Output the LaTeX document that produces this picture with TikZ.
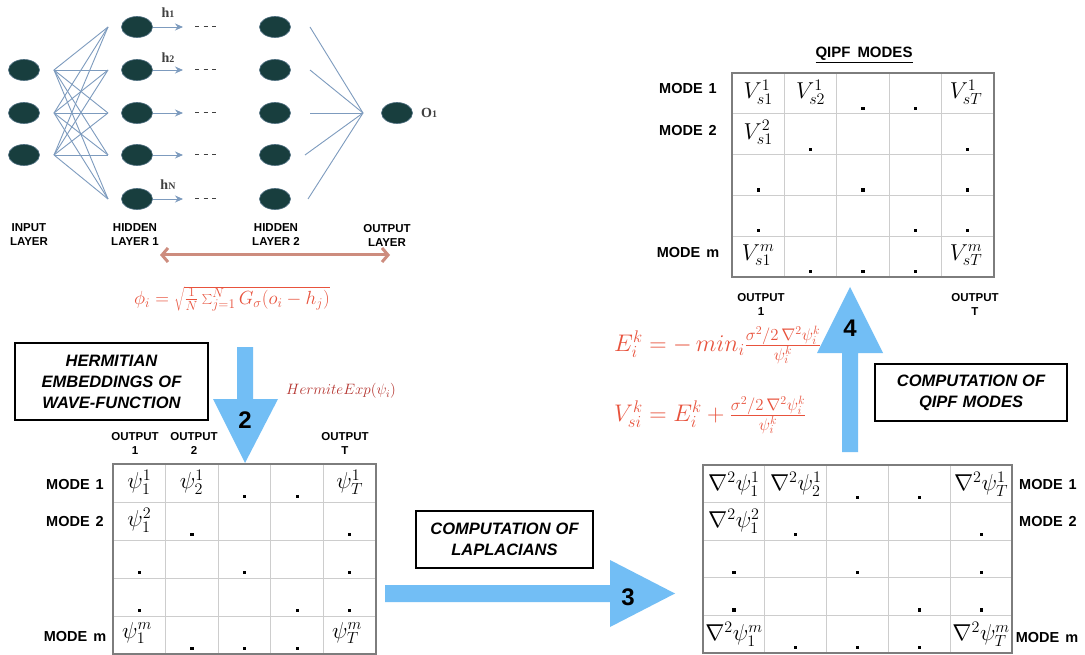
\RequirePackage{fix-cm}
\documentclass[tikz,border=0pt]{standalone}
\usepackage[no-math]{fontspec}
\setmainfont{Liberation Sans}
\setsansfont{Liberation Sans}
\newfontfamily\serifb{Liberation Serif}
\usetikzlibrary{shapes.geometric,arrows.meta}
\definecolor{nnnode}{RGB}{24,62,62}
\definecolor{nnedge}{RGB}{125,155,190}
\definecolor{bigblue}{RGB}{114,190,245}
\definecolor{formred}{RGB}{232,82,60}
\definecolor{hermred}{RGB}{180,50,45}
\definecolor{brownarrow}{RGB}{205,140,126}
\definecolor{gridgray}{RGB}{205,205,205}
\definecolor{bordergray}{RGB}{125,125,125}
\newcommand\mgrid[4]{%
  \foreach \i in {1,...,4} {
    \draw[gridl] ({#1+\i*#3},#2) -- ({#1+\i*#3},{#2+5*#4});
    \draw[gridl] (#1,{#2+\i*#4}) -- ({#1+5*#3},{#2+\i*#4});
  }
  \draw[gridb] (#1,#2) rectangle ({#1+5*#3},{#2+5*#4});
  \foreach \r/\c in {1/3,1/4,2/2,2/5,3/1,3/3,3/5,4/1,4/4,4/5,5/2,5/3,5/4}
    \fill ({#1+(\c-0.5)*#3-1.6},{#2+\r*#4-7}) rectangle ++(3.2,3.2);
}
\begin{document}
\begin{tikzpicture}[x=1pt,y=-1pt,
  nn/.style={ellipse, fill=nnnode, draw=nnedge!50!nnnode, line width=0.6pt, minimum width=31pt, minimum height=21pt, inner sep=0pt},
  nnline/.style={draw=nnedge, line width=0.9pt},
  lbl/.style={font=\fontsize{11.5}{14}\selectfont\bfseries, align=center, inner sep=0pt},
  model/.style={font=\fontsize{14.5}{17}\selectfont\bfseries, inner sep=0pt},
  stagebox/.style={draw=black, line width=2.2pt, font=\fontsize{16.5}{21}\selectfont\bfseries\itshape, align=center, inner sep=0pt},
  bignum/.style={font=\fontsize{24}{24}\selectfont\bfseries, inner sep=0pt},
  cellm/.style={font=\fontsize{23}{23}\selectfont, inner sep=0pt},
  formula/.style={text=formred, font=\fontsize{24}{26}\selectfont, inner sep=0pt},
  hlab/.style={font=\fontsize{14}{14}\selectfont\serifb\bfseries, text=black!75, inner sep=0pt},
  gridl/.style={draw=gridgray, line width=0.9pt},
  gridb/.style={draw=bordergray, line width=1.4pt}
]
\fill[white] (0,0) rectangle (1085,655);
\useasboundingbox (0,0) rectangle (1085,655);

% ---------------- neural network ----------------
\foreach \y [count=\k] in {70,113,155} {
  \coordinate (io\k) at (54,\y);
}
\foreach \y [count=\k] in {27,70,113,155,199} {
  \coordinate (ai\k) at (108,\y);
  \coordinate (ah\k) at (183,\y);
}
\coordinate (bo1) at (310,27);
\coordinate (bo2) at (310,70);
\coordinate (bo3) at (310,113);
\coordinate (bo4) at (305,155);
\coordinate (bo5) at (308,199);
\coordinate (oin) at (363,113);

\foreach \i in {1,2,3} \foreach \j in {1,...,5} \draw[nnline] (io\i) -- (ai\j);
\foreach \j in {1,...,5} \draw[nnline] (bo\j) -- (oin);

\node[nn] (i1) at (24,70) {};
\node[nn] (i2) at (24,113) {};
\node[nn] (i3) at (24,155) {};
\foreach \y [count=\k] in {27,70,113,155,199} {
  \node[nn] (a\k) at (137,\y) {};
  \node[nn] (b\k) at (275,\y) {};
  \draw[nnline,-{Stealth[length=8pt,width=7pt]}] (a\k.east) -- (ah\k);
  \draw[black!75, line width=1pt, dash pattern=on 4pt off 4.5pt] (195,\y) -- (219,\y);
}
\node[nn] (o1) at (397,113) {};
\node[hlab, anchor=west] (o1l) at (421,113) {O{\fontsize{10}{10}\selectfont 1}};
\node[hlab] (h1l) at (168,13) {h{\fontsize{10}{10}\selectfont 1}};
\node[hlab] (h2l) at (168,58) {h{\fontsize{10}{10}\selectfont 2}};
\node[hlab] (hNl) at (168,185) {h{\fontsize{10}{10}\selectfont N}};

\node[lbl] (lin) at (29,235) {INPUT\\LAYER};
\node[lbl] (lh1) at (135,235) {HIDDEN\\LAYER 1};
\node[lbl] (lh2) at (276,235) {HIDDEN\\LAYER 2};
\node[lbl] (lout) at (387,235) {OUTPUT\\LAYER};

\coordinate (dl) at (160,255);
\coordinate (dr) at (390,255);
\draw[brownarrow, line width=3pt, {Straight Barb[length=6pt,width=14pt]}-{Straight Barb[length=6pt,width=14pt]}] (dl) -- (dr);

\node[formula, font=\fontsize{19}{21}\selectfont] (phi) at (232,299) {$\phi_i=\sqrt{\frac{1}{N}\sum_{j=1}^{N} G_\sigma(o_i-h_j)}$};

% ---------------- stage 2 ----------------
\node[stagebox, minimum width=193pt, minimum height=77pt] (hbox) at (111.5,381.5) {HERMITIAN\\EMBEDDINGS\hspace{5pt}OF\\WAVE-FUNCTION};
\fill[bigblue] (237,347) -- (253,347) -- (253,399) -- (278,399) -- (245,463) -- (213,399) -- (237,399) -- cycle;
\node[bignum] (n2) at (245,420) {2};
\node[text=hermred, font=\fontsize{15}{17}\selectfont, anchor=west, inner sep=0pt] (herm) at (286,391) {$HermiteExp(\psi_i)$};

% left matrix
\mgrid{113}{464}{52.6}{38}
\node[lbl] (lo1) at (135,443) {OUTPUT\\1};
\node[lbl] (lo2) at (194,443) {OUTPUT\\2};
\node[lbl] (loT) at (345,443) {OUTPUT\\T};
\node[model] (lm1) at (75,485) {MODE\hspace{6pt}1};
\node[model] (lm2) at (75,522) {MODE\hspace{6pt}2};
\node[model] (lmm) at (75,637) {MODE\hspace{6pt}m};
\node[cellm] (L11) at (139.3,482) {$\psi_1^1$};
\node[cellm] (L12) at (191.9,482) {$\psi_2^1$};
\node[cellm] (L15) at (349.7,482) {$\psi_T^1$};
\node[cellm] (L21) at (139.3,520) {$\psi_1^2$};
\node[cellm] (L51) at (137,633) {$\psi_1^m$};
\node[cellm] (L55) at (347,633) {$\psi_T^m$};

% ---------------- stage 3 ----------------
\node[stagebox, minimum width=177pt, minimum height=57pt] (lbox) at (504.5,539.5) {COMPUTATION\hspace{5pt}OF\\LAPLACIANS};
\fill[bigblue] (385,585) -- (610,585) -- (610,560) -- (675,593.5) -- (610,627) -- (610,602) -- (385,602) -- cycle;
\node[bignum] (n3) at (628,597) {3};

% right bottom matrix
\mgrid{703}{465}{61.8}{37.6}
\node[model] (rm1) at (1048,485) {MODE\hspace{6pt}1};
\node[model] (rm2) at (1048,522) {MODE\hspace{6pt}2};
\node[model] (rmm) at (1047,638) {MODE\hspace{6pt}m};
\node[cellm] (R11) at (733.9,484) {$\nabla^2\psi_1^1$};
\node[cellm] (R12) at (795.7,484) {$\nabla^2\psi_2^1$};
\node[cellm] (R15) at (981.1,484) {$\nabla^2\psi_T^1$};
\node[cellm] (R21) at (733.9,521) {$\nabla^2\psi_1^2$};
\node[cellm] (R51) at (733.9,634) {$\nabla^2\psi_1^m$};
\node[cellm] (R55) at (981.1,634) {$\nabla^2\psi_T^m$};

% ---------------- stage 4 ----------------
\fill[bigblue] (842,452) -- (842,353) -- (817,353) -- (850,287) -- (883,353) -- (858,353) -- (858,452) -- cycle;
\node[bignum] (n4) at (850,328) {4};
\node[stagebox, minimum width=192pt, minimum height=57pt] (qbox) at (971,392.5) {COMPUTATION\hspace{5pt}OF\\QIPF\hspace{5pt}MODES};
\node[formula, anchor=west] (Ef) at (614,345) {$E_i^k = -\,min_i\frac{\sigma^2/2\,\nabla^2\psi_i^k}{\psi_i^k}$};
\node[formula, anchor=west] (Vf) at (614,415) {$V_{si}^k = E_i^k + \frac{\sigma^2/2\,\nabla^2\psi_i^k}{\psi_i^k}$};

% top right matrix
\node[model, font=\fontsize{15}{17}\selectfont\bfseries] (qt) at (864,55) {\underline{QIPF\hspace{7pt}MODES}};
\mgrid{732}{73}{52.4}{40.8}
\node[model] (tm1) at (688,89) {MODE\hspace{6pt}1};
\node[model] (tm2) at (688,131) {MODE\hspace{6pt}2};
\node[model] (tmm) at (688,253) {MODE\hspace{6pt}m};
\node[lbl] (to1) at (761,304) {OUTPUT\\1};
\node[lbl] (toT) at (975,304) {OUTPUT\\T};
\node[cellm] (T11) at (758.2,92) {$V_{s1}^1$};
\node[cellm] (T12) at (810.6,92) {$V_{s2}^1$};
\node[cellm] (T15) at (966,92) {$V_{sT}^1$};
\node[cellm] (T21) at (758.2,132.5) {$V_{s1}^2$};
\node[cellm] (T51) at (758.2,255) {$V_{s1}^m$};
\node[cellm] (T55) at (966,255) {$V_{sT}^m$};
\end{tikzpicture}
\end{document}
